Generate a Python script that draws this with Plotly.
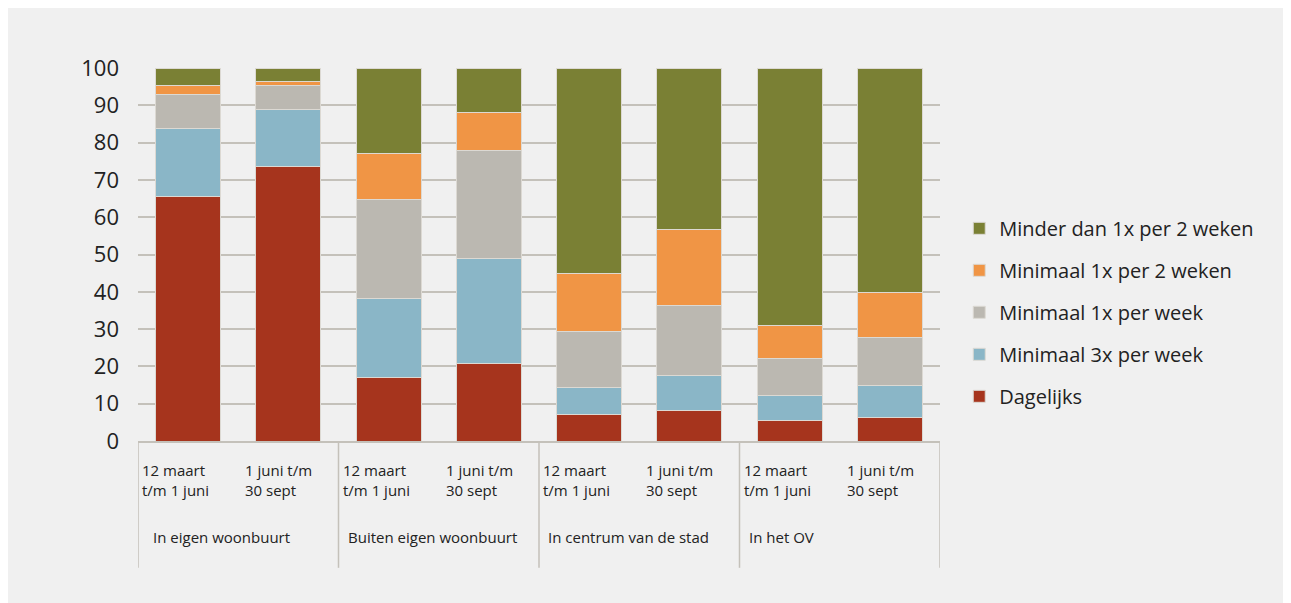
import plotly.graph_objects as go

# categorieën
perioden = ["12 maart<br>t/m 1 juni", "1 juni t/m<br>30 sept"]
locaties = ["In eigen woonbuurt", "Buiten eigen woonbuurt", "In centrum van de stad", "In het OV"]

# percentages per reeks (8 staven: per locatie twee perioden)
dagelijks = [65.5, 73.5, 17.0, 20.7, 7.1, 8.1, 5.4, 6.3]
min_3x_week = [18.2, 15.5, 21.3, 28.2, 7.3, 9.4, 6.9, 8.7]
min_1x_week = [9.1, 6.2, 26.5, 29.0, 15.0, 18.9, 9.9, 12.8]
min_1x_2weken = [2.5, 1.3, 12.2, 10.2, 15.4, 20.4, 8.7, 12.1]
minder_1x_2weken = [4.7, 3.5, 23.0, 11.9, 55.2, 43.2, 69.1, 60.1]

series = [
    ("Dagelijks", dagelijks, "#a6341d"),
    ("Minimaal 3x per week", min_3x_week, "#8ab6c7"),
    ("Minimaal 1x per week", min_1x_week, "#bbb8b1"),
    ("Minimaal 1x per 2 weken", min_1x_2weken, "#f09545"),
    ("Minder dan 1x per 2 weken", minder_1x_2weken, "#7a8034"),
]

FONT = "'Open Sans', Lato, sans-serif"
LINE = "#c4c1ba"
n = len(locaties) * len(perioden)
xs = list(range(n))

fig = go.Figure()
for i, (naam, vals, kleur) in enumerate(series):
    fig.add_trace(go.Bar(
        x=xs, y=vals, name=naam, legendgroup=str(i), legendrank=len(series) - i,
        marker=dict(color=kleur, line=dict(color="#dcd9d3", width=1)),
    ))

# labels onder de as
for i in range(n):
    fig.add_annotation(
        x=i - 0.5, xref="x", y=-0.045, yref="paper",
        text=perioden[i % 2], showarrow=False, xanchor="left", yanchor="top",
        align="left", xshift=2 if i % 2 == 0 else 5,
        font=dict(family=FONT, size=15, color="#222222"),
    )
for g, loc in enumerate(locaties):
    fig.add_annotation(
        x=g * 2 - 0.5, xref="x", y=-0.258, yref="paper",
        text=loc, showarrow=False, xanchor="left", yanchor="middle",
        xshift=13 if g == 0 else 7,
        font=dict(family=FONT, size=15, color="#222222"),
    )
    fig.add_shape(type="line", x0=g * 2 - 0.5, x1=g * 2 - 0.5, xref="x",
                  y0=0, y1=-0.34, yref="paper", line=dict(color=LINE, width=1.5))
fig.add_shape(type="line", x0=n - 0.5, x1=n - 0.5, xref="x",
              y0=0, y1=-0.34, yref="paper", line=dict(color=LINE, width=1.5))

fig.update_layout(
    barmode="stack",
    bargap=0.35,
    width=1283, height=595,
    margin=dict(l=130, r=351, t=60, b=162),
    paper_bgcolor="#f0f0f0",
    plot_bgcolor="#f0f0f0",
    font=dict(family=FONT, color="#222222"),
    showlegend=True,
    legend=dict(
        traceorder="grouped", tracegroupgap=13,
        x=1.024, xanchor="left", y=0.345, yanchor="middle",
        font=dict(family=FONT, size=20, color="#222222"),
        bgcolor="rgba(0,0,0,0)",
    ),
    xaxis=dict(
        range=[-0.5, n - 0.5], showticklabels=False, showgrid=False,
        zeroline=False, showline=True, linecolor=LINE, linewidth=1.5,
        fixedrange=True,
    ),
    yaxis=dict(
        range=[0, 100], dtick=10, showgrid=True, gridcolor=LINE, gridwidth=1.5,
        zeroline=False, showline=False, ticks="",
        tickfont=dict(family=FONT, size=22, color="#222222"),
        ticklabelstandoff=18,
    ),
)

fig.write_html("out.html")
